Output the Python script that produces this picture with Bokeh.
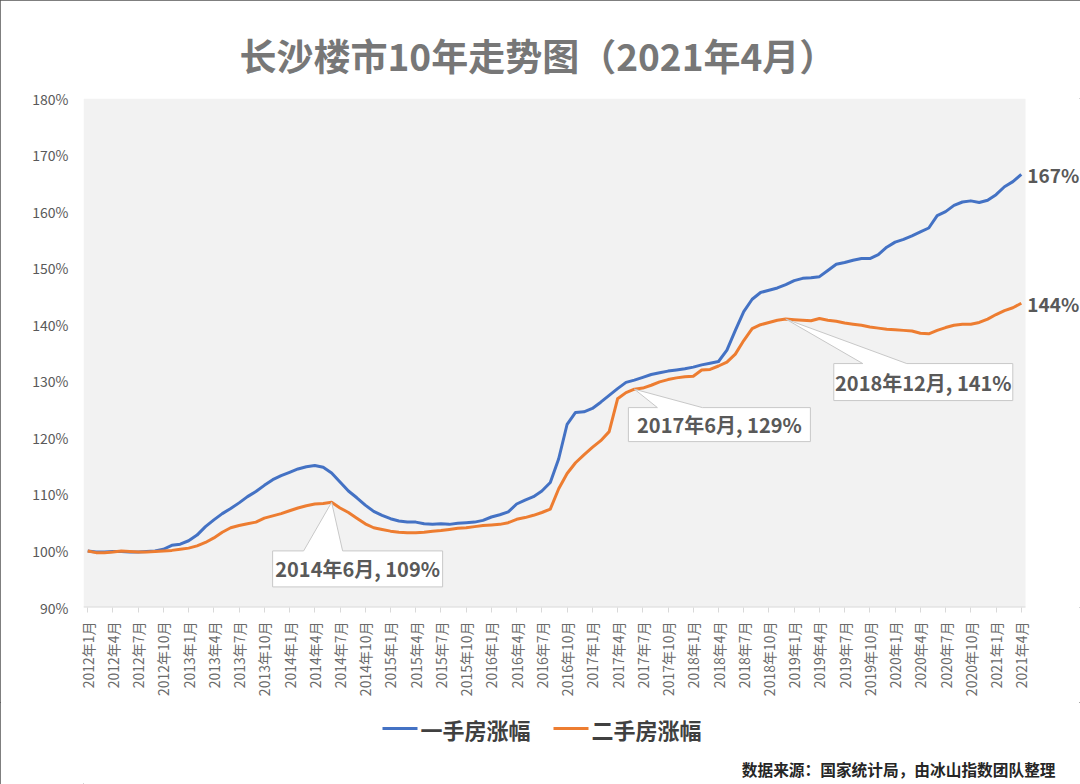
import numpy as np
from bokeh.plotting import figure
from bokeh.layouts import column
from bokeh.models import (ColumnDataSource, FixedTicker, Label, Range1d,
                          CustomJSTickFormatter, BoxAnnotation)
from bokeh.core.properties import value
from bokeh.embed import file_html
from bokeh.resources import INLINE

FONT = "Noto Sans CJK SC"

# ---------------- data ----------------
months = [f"{y}年{m}月" for y in range(2012, 2022) for m in range(1, 13)][:112]

new_home = [
    100.0, 99.8, 99.8, 99.9, 99.9, 99.8, 99.8, 99.9, 100.0, 100.3, 101.0, 101.2,
    101.8, 102.8, 104.3, 105.5, 106.6, 107.5, 108.5, 109.6, 110.5, 111.6, 112.6, 113.3,
    113.9, 114.5, 114.9, 115.1, 114.8, 113.8, 112.2, 110.6, 109.4, 108.1, 107.0, 106.3,
    105.7, 105.3, 105.1, 105.1, 104.8, 104.7, 104.8, 104.7, 104.9, 105.0, 105.1, 105.4,
    106.0, 106.4, 106.9, 108.3, 109.0, 109.6, 110.6, 112.1, 116.3, 122.4, 124.5, 124.6,
    125.2, 126.3, 127.5, 128.7, 129.8, 130.2, 130.7, 131.2, 131.5, 131.8, 132.0, 132.2,
    132.5, 132.9, 133.2, 133.5, 135.5, 139.0, 142.3, 144.5, 145.7, 146.1, 146.5, 147.1,
    147.8, 148.2, 148.3, 148.5, 149.6, 150.7, 151.0, 151.4, 151.7, 151.7, 152.4, 153.7,
    154.6, 155.1, 155.7, 156.4, 157.1, 159.3, 160.0, 161.1, 161.7, 161.9, 161.6, 162.0,
    163.0, 164.4, 165.3, 166.6,
]

second_hand = [
    100.0, 99.7, 99.7, 99.8, 100.0, 99.9, 99.8, 99.8, 99.9, 100.0, 100.1, 100.3,
    100.5, 100.9, 101.5, 102.3, 103.3, 104.1, 104.5, 104.8, 105.1, 105.8, 106.2, 106.6,
    107.1, 107.6, 108.0, 108.3, 108.4, 108.6, 107.6, 106.8, 105.8, 104.8, 104.1, 103.8,
    103.5, 103.3, 103.2, 103.2, 103.3, 103.5, 103.6, 103.8, 104.0, 104.1, 104.3, 104.5,
    104.6, 104.7, 105.0, 105.6, 105.9, 106.3, 106.8, 107.4, 111.0, 113.7, 115.6, 117.0,
    118.3, 119.5, 121.1, 126.9, 128.0, 128.6, 128.8, 129.3, 129.9, 130.3, 130.6, 130.8,
    130.9, 132.0, 132.1, 132.7, 133.4, 134.8, 137.2, 139.3, 140.0, 140.4, 140.8, 141.0,
    140.9, 140.8, 140.7, 141.1, 140.8, 140.6, 140.3, 140.1, 139.9, 139.6, 139.4, 139.2,
    139.1, 139.0, 138.9, 138.5, 138.4, 139.0, 139.5, 139.9, 140.1, 140.1, 140.4, 141.0,
    141.8, 142.5, 143.0, 143.8,
]

y_ticks = [90, 100, 110, 120, 130, 140, 150, 160, 170, 180]
x_tick_step = 3
series_names = ["一手房涨幅", "二手房涨幅"]
series_colors = ["#4472C4", "#ED7D31"]
title_text = "长沙楼市10年走势图（2021年4月）"
source_text = "数据来源：国家统计局，由冰山指数团队整理"
callout_idx = [29, 65, 83]   # 2014年6月, 2017年6月, 2018年12月 on 二手房

# ---------------- geometry (pixels) ----------------
W, H = 1080, 784
PL, PR, PT, PB = 83, 1025, 98, 607        # grey plot area edges
H1 = 702                                  # main figure height
H2 = H - H1                               # legend/source strip
n = len(months)
sx = (PR - PL) / n                        # px per month
sy = (PB - PT) / (y_ticks[-1] - y_ticks[0])
x0, x1 = -0.5, n - 0.5
x_end = x1 + (W - PR) / sx                # frame extends right so end labels are not clipped

idx = list(range(n))
src = ColumnDataSource(dict(x=idx, a=new_home, b=second_hand))

p = figure(width=W, height=H1, output_backend="svg", toolbar_location=None,
           x_range=Range1d(x0, x_end), y_range=Range1d(y_ticks[0], y_ticks[-1]),
           min_border_left=PL, min_border_right=0, min_border_top=PT,
           min_border_bottom=H1 - PB)
p.background_fill_color = "white"
p.border_fill_color = "white"
p.outline_line_color = None
p.grid.visible = False

# grey plot area
p.add_layout(BoxAnnotation(left=x0, right=x1, bottom=y_ticks[0], top=y_ticks[-1],
                           fill_color="#f2f2f2", fill_alpha=1, line_color=None,
                           level="underlay"))
p.segment(x0=[x0], y0=[y_ticks[0]], x1=[x1], y1=[y_ticks[0]], line_color="#d9d9d9",
          line_width=2)

# title
p.title.text = title_text
p.title.align = "left"
p.title.offset = 239 - PL
p.title.standoff = 34
p.title.text_font = FONT
p.title.text_font_size = "37px"
p.title.text_font_style = "bold"
p.title.text_color = "#777777"

# y axis
p.yaxis.ticker = FixedTicker(ticks=y_ticks)
p.yaxis.formatter = CustomJSTickFormatter(code="return tick.toFixed(0) + '%';")
p.yaxis.axis_line_color = None
p.yaxis.major_tick_line_color = None
p.yaxis.minor_tick_line_color = None
p.yaxis.major_label_text_font = FONT
p.yaxis.major_label_text_font_size = "14px"
p.yaxis.major_label_text_color = "#595959"
p.yaxis.major_label_standoff = 9

# x axis
xt = list(range(0, n, x_tick_step))
p.xaxis.ticker = FixedTicker(ticks=xt)
p.xaxis.major_label_overrides = {i: months[i] for i in xt}
p.xaxis.major_label_orientation = np.pi / 2
p.xaxis.axis_line_color = None
p.xaxis.major_tick_line_color = "#d9d9d9"
p.xaxis.major_tick_out = 5
p.xaxis.major_tick_in = 0
p.xaxis.minor_tick_line_color = None
p.xaxis.major_label_text_font = FONT
p.xaxis.major_label_text_font_size = "14px"
p.xaxis.major_label_text_color = "#6a6a6a"
p.xaxis.major_label_standoff = 9

# lines
r1 = p.line("x", "a", source=src, line_color=series_colors[0], line_width=3, line_join="round")
r2 = p.line("x", "b", source=src, line_color=series_colors[1], line_width=3, line_join="round")

# end labels
for series in (new_home, second_hand):
    p.add_layout(Label(x=idx[-1], y=series[-1], text=f"{round(series[-1])}%", x_offset=6,
                       text_align="left", text_baseline="middle", text_font=FONT,
                       text_font_size="19px", text_font_style="bold", text_color="#595959"))

# callouts (pixel offsets relative to point: box l, r, top, bottom; pointer base x0, x1)
callout_px = [
    (-59, 111, 48.6, 84.6, -28, 11),
    (-6, 176, 18.4, 52.4, 23, 68),
    (48, 227, 44.5, 81.5, 77, 121),
]
for i, (l, r, t, b, b0, b1) in zip(callout_idx, callout_px):
    m, v = idx[i], second_hand[i]
    pts = [(l, t), (b0, t), (0, 0), (b1, t), (r, t), (r, b), (l, b)]
    xs = [m + dx / sx for dx, dy in pts]
    ys = [v - dy / sy for dx, dy in pts]
    p.patch(xs, ys, fill_color="white", line_color="#c8c8c8", line_width=1)
    cx = m + (l + r) / 2 / sx
    cy = v - (t + b) / 2 / sy
    p.text(x=[cx], y=[cy], text=[f"{months[i]}, {round(v)}%"], text_align="center",
           text_baseline="middle", text_font=value(FONT), text_font_size="20px",
           text_font_style="bold", text_color="#595959")

# ---------------- legend + source strip (pixel-space figure) ----------------
# the column aligns this strip's frame with the main frame (which starts at PL)
p2 = figure(width=W, height=H2, output_backend="svg", toolbar_location=None,
            x_axis_type=None, y_axis_type=None, x_range=Range1d(PL, W),
            y_range=Range1d(0, H2), min_border=0)
p2.outline_line_color = None
p2.background_fill_color = "white"
p2.border_fill_color = "white"

legend_y = 56
legend_x = [382, 553]          # start of each legend key
key_w, key_gap = 35, 3
for name, color, lx in zip(series_names, series_colors, legend_x):
    p2.segment(x0=[lx], y0=[legend_y], x1=[lx + key_w], y1=[legend_y],
               line_color=color, line_width=3)
    p2.text(x=[lx + key_w + key_gap], y=[legend_y], text=[name], text_align="left",
            text_baseline="middle", text_font=value(FONT), text_font_size="22px",
            text_font_style="bold", text_color="#404040")

p2.text(x=[1055], y=[15], text=[source_text], text_align="right", text_baseline="middle",
        text_font=value(FONT), text_font_size="15.7px", text_font_style="bold",
        text_color="#262626")

layout = column(p, p2, spacing=0,
                styles={"outline": "1px solid #555555", "outline-offset": "-1px"})

open("out.html", "w").write(file_html(layout, INLINE))
